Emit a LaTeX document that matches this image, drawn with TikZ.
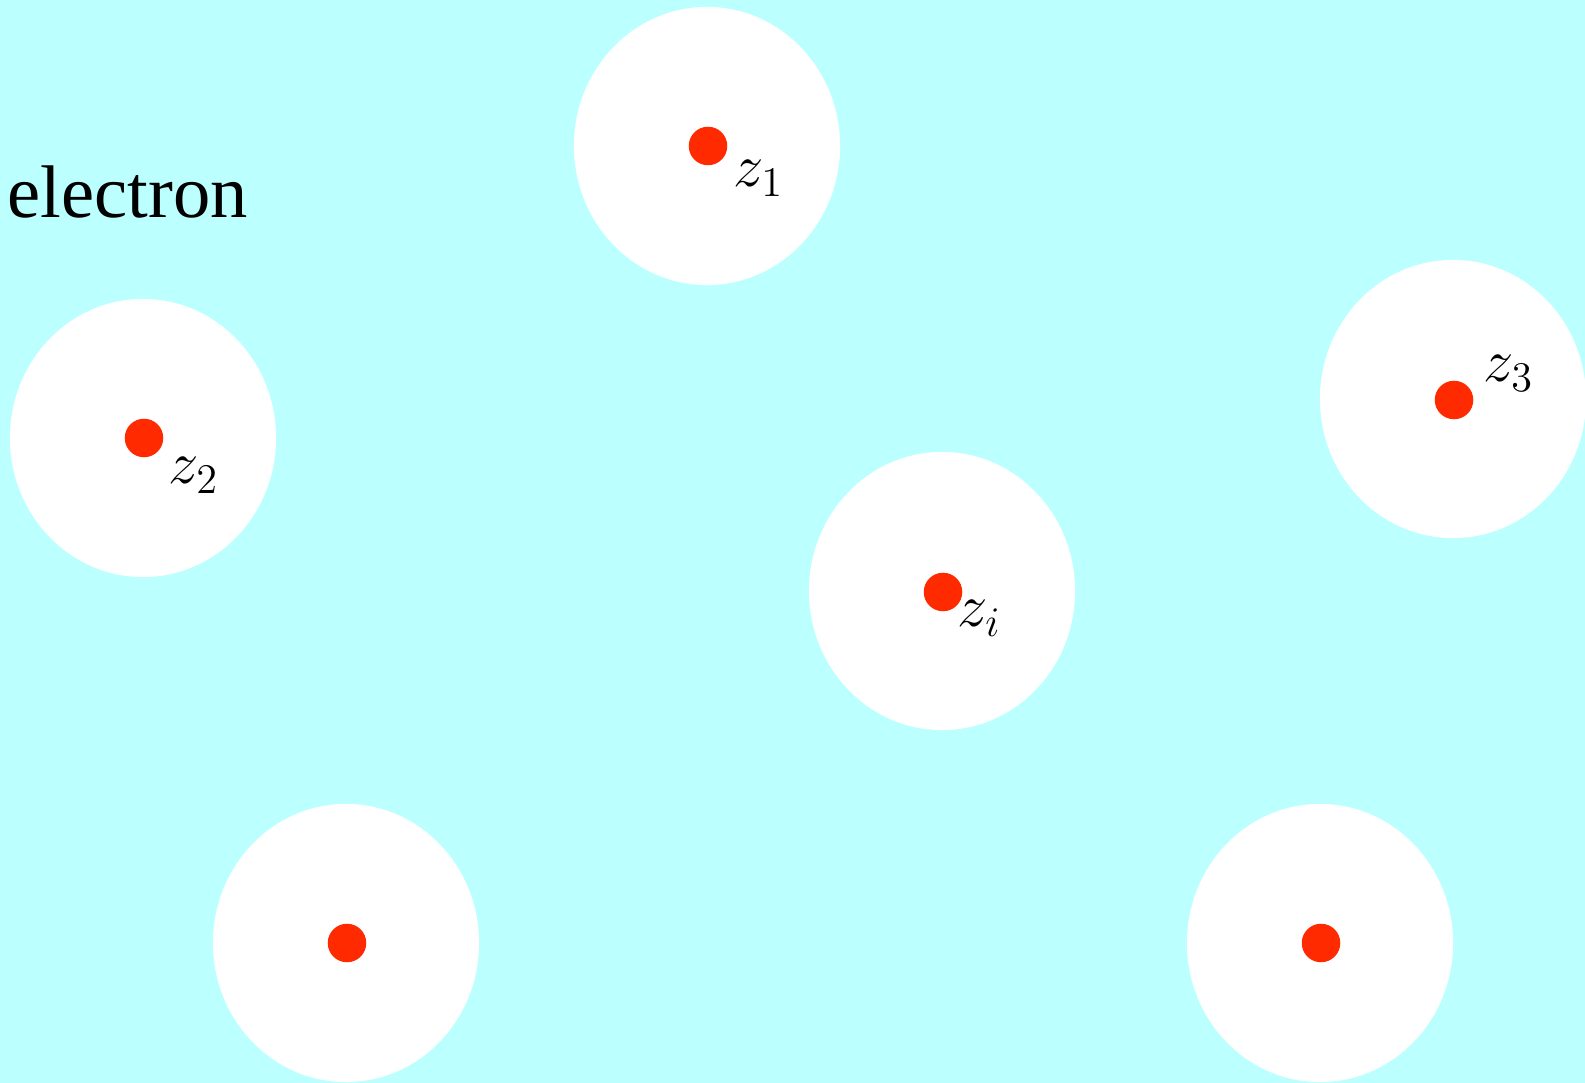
\documentclass[tikz,border=0pt]{standalone}
\usepackage{fontspec}
\newfontfamily\timesfont{Liberation Serif}
\usetikzlibrary{positioning,shapes.geometric}
\definecolor{sea}{HTML}{BBFFFF}
\definecolor{nucleus}{HTML}{FF2A00}

\begin{document}
\begin{tikzpicture}[x=0.01cm,y=-0.01cm,
  hole/.style={ellipse,fill=white,inner sep=0pt,minimum width=2.66cm,minimum height=2.78cm},
  dot/.style={circle,fill=nucleus,inner sep=0pt,minimum size=3.85mm},
  lbl/.style={anchor=base west,inner sep=0pt,font=\fontsize{17.3}{20}\selectfont}]
  \useasboundingbox (0,0) rectangle (1585,1083);
  \fill[sea] (0,0) rectangle (1585,1083);
  % holes around the nuclei
  \node[hole] (h1) at (707,146) {};
  \node[hole] (h2) at (143,438) {};
  \node[hole] (h3) at (1453,399) {};
  \node[hole] (hi) at (942,591) {};
  \node[hole] (h5) at (346,943) {};
  \node[hole] (h6) at (1320,943) {};
  % nuclei
  \node[dot] (z1) at (708,146) {};
  \node[dot] (z2) at (144,438) {};
  \node[dot] (z3) at (1454,400) {};
  \node[dot] (zi) at (943,592) {};
  \node[dot] (z5) at (347,943) {};
  \node[dot] (z6) at (1321,943) {};
  % labels
  \node[lbl] (l1) at (733,187) {$z_1$};
  \node[lbl] (l2) at (168,484) {$z_2$};
  \node[lbl] (l3) at (1483,382) {$z_3$};
  \node[lbl] (li) at (957,627) {$z_i$};
  \node[anchor=base west,inner sep=0pt,font=\timesfont\fontsize{21.2}{25}\selectfont] (el) at (7,218) {electron};
\end{tikzpicture}
\end{document}
